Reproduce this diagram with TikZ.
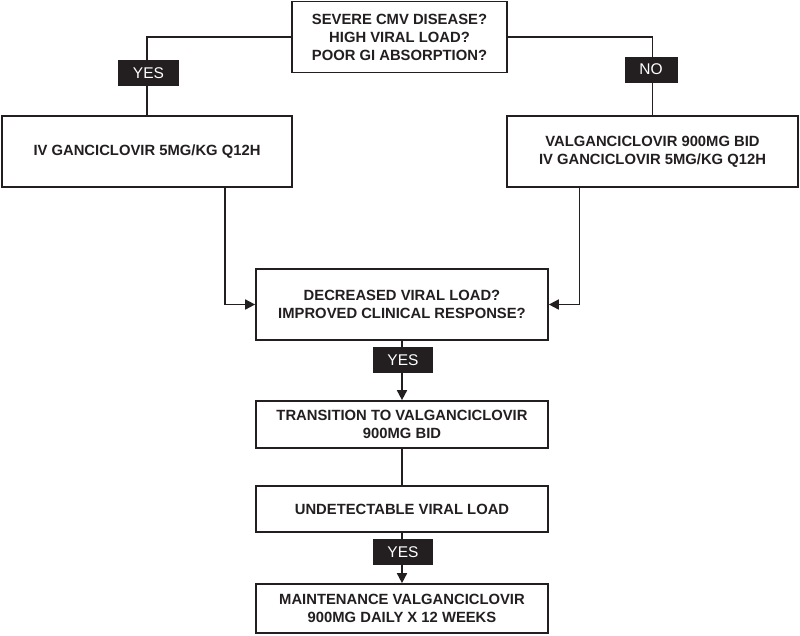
\documentclass[tikz,border=0pt]{standalone}
\usepackage{fontspec}
\setmainfont{Liberation Sans}
\usetikzlibrary{arrows.meta}
\definecolor{ink}{RGB}{35,31,32}
\begin{document}
\begin{tikzpicture}[x=1pt,y=-1pt,
  box/.style={draw=ink, line width=1.7pt, inner sep=0pt, align=center, text=ink,
    font=\bfseries\fontsize{14.8}{18}\selectfont},
  lab/.style={fill=ink, text=white, inner sep=0pt, minimum height=26pt,
    font=\fontsize{15.5}{18}\selectfont},
  conn/.style={draw=ink, line width=1.7pt},
  arr/.style={conn, -{Triangle[length=10pt,width=10pt]}}]
\useasboundingbox[fill=white] (0,0) rectangle (800,635);
% boxes
\node[box, minimum width=215pt, minimum height=71pt] (top) at (399.5,37) {SEVERE CMV DISEASE?\\HIGH VIRAL LOAD?\\POOR GI ABSORPTION?};
\node[box, minimum width=290pt, minimum height=71pt] (left) at (147,151.5) {IV GANCICLOVIR 5MG/KG Q12H};
\node[box, minimum width=291pt, minimum height=71pt] (right) at (652.5,151.5) {VALGANCICLOVIR 900MG BID\\IV GANCICLOVIR 5MG/KG Q12H};
\node[box, minimum width=292pt, minimum height=71pt] (mid) at (402,304.5) {DECREASED VIRAL LOAD?\\IMPROVED CLINICAL RESPONSE?};
\node[box, minimum width=292pt, minimum height=47pt] (trans) at (402,424.5) {TRANSITION TO VALGANCICLOVIR\\900MG BID};
\node[box, minimum width=292pt, minimum height=46pt] (undet) at (402,509) {UNDETECTABLE VIRAL LOAD};
\node[box, minimum width=292pt, minimum height=49pt] (maint) at (402,608.5) {MAINTENANCE VALGANCICLOVIR\\900MG DAILY X 12 WEEKS};
% connectors
\draw[conn] (top.west) -| (left.north);
\draw[conn] (top.east) -| (right.north);
\draw[arr] ([xshift=78pt]left.south) |- (mid.west);
\draw[arr] ([xshift=-73pt]right.south) |- (mid.east);
\draw[arr] (mid.south) -- (trans.north);
\draw[conn] (trans.south) -- (undet.north);
\draw[arr] (undet.south) -- (maint.north);
% labels
\node[lab, minimum width=61pt] (yes1) at (148.5,73) {YES};
\node[lab, minimum width=53pt] (no1) at (651,69.5) {NO};
\node[lab, minimum width=60pt] (yes2) at (403,360) {YES};
\node[lab, minimum width=60pt] (yes3) at (403,552) {YES};
\end{tikzpicture}
\end{document}
